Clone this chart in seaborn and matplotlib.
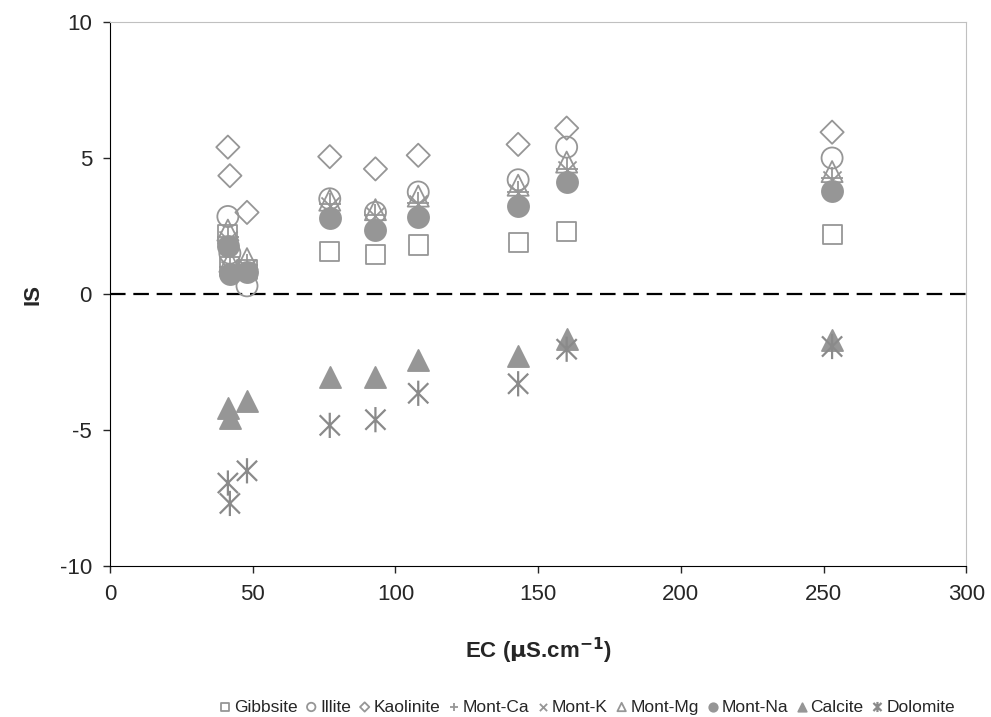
import numpy as np
import pandas as pd
import seaborn as sns
import matplotlib.pyplot as plt
from matplotlib.path import Path


# Saturation index data
ec = [41.3, 42.0, 48.0, 77.0, 93.0, 108.0, 143.0, 160.0, 253.0]
gibbsite = [2.2, 1.0, 0.9, 1.55, 1.45, 1.8, 1.9, 2.3, 2.2]
illite = [2.85, 1.5, 0.3, 3.5, 3.0, 3.75, 4.2, 5.4, 5.0]
kaolinite = [5.4, 4.35, 3.0, 5.05, 4.6, 5.1, 5.5, 6.1, 5.95]
mont_ca = [2.1, 1.0, 1.05, 3.3, 2.9, 3.35, 3.75, 4.6, 4.25]
mont_k = [2.0, 0.9, 0.95, 3.25, 2.85, 3.3, 3.7, 4.55, 4.2]
mont_mg = [2.35, 1.2, 1.3, 3.45, 3.1, 3.6, 4.0, 4.85, 4.5]
mont_na = [1.75, 0.75, 0.8, 2.78, 2.35, 2.84, 3.25, 4.13, 3.78]
calcite = [-4.2, -4.55, -3.95, -3.05, -3.05, -2.42, -2.28, -1.67, -1.7]
dolomite = [-6.95, -7.7, -6.5, -4.83, -4.62, -3.65, -3.3, -2.03, -1.93]

minerals = ["Gibbsite", "Illite", "Kaolinite", "Mont-Ca", "Mont-K",
            "Mont-Mg", "Mont-Na", "Calcite", "Dolomite"]
values = [gibbsite, illite, kaolinite, mont_ca, mont_k,
          mont_mg, mont_na, calcite, dolomite]

df = pd.DataFrame({
    "EC": np.tile(ec, len(minerals)),
    "IS": np.concatenate(values),
    "mineral": np.repeat(minerals, len(ec)),
})

# asterisk like the spreadsheet one: vertical bar plus an X
star = Path([(0, -1), (0, 1), (-0.8, -0.8), (0.8, 0.8), (-0.8, 0.8), (0.8, -0.8)],
            [Path.MOVETO, Path.LINETO, Path.MOVETO, Path.LINETO, Path.MOVETO, Path.LINETO])

grey = "#969696"
styles = {
    "Gibbsite": dict(marker="s", facecolor="none", edgecolor=grey, s=190),
    "Illite": dict(marker="o", facecolor="none", edgecolor=grey, s=230),
    "Kaolinite": dict(marker="D", facecolor="none", edgecolor=grey, s=140),
    "Mont-Ca": dict(marker="+", color=grey, s=260),
    "Mont-K": dict(marker="x", color=grey, s=170),
    "Mont-Mg": dict(marker="^", facecolor="none", edgecolor=grey, s=230),
    "Mont-Na": dict(marker="o", color=grey, edgecolor=grey, s=230),
    "Calcite": dict(marker="^", color=grey, edgecolor=grey, s=230),
    "Dolomite": dict(marker=star, facecolor="none", edgecolor="#8a8a8a", s=330),
}

sns.set_style("ticks")
plt.rcParams["font.family"] = ["Liberation Sans", "DejaVu Sans"]
plt.rcParams["axes.unicode_minus"] = False

fig = plt.figure(figsize=(9.91, 7.17), dpi=100)
ax = fig.add_axes([0.111, 0.2106, 0.864, 0.7587])

for name in minerals:
    sub = df[df["mineral"] == name]
    lw = 1.6 if name == "Dolomite" else 1.3
    sns.scatterplot(data=sub, x="EC", y="IS", ax=ax, label=name, legend=False,
                    linewidth=lw, zorder=3, **styles[name])

ax.axhline(0, color="black", linestyle=(0, (7, 3.5)), linewidth=1.6, zorder=2)

ax.set_xlim(0, 300)
ax.set_ylim(-10, 10)
ax.set_xticks(range(0, 301, 50))
ax.set_yticks([-10, -5, 0, 5, 10])
ax.tick_params(labelsize=16, direction="out", length=5, width=1, pad=8)
ax.set_xlabel("EC ($\\mathbf{\\mu}$S.cm$^{\\mathbf{-1}}$)", fontsize=16, fontweight="bold", labelpad=22)
ax.set_ylabel("IS", fontsize=16, fontweight="bold", labelpad=12)

for side in ["top", "right"]:
    ax.spines[side].set_color("#c0c0c0")
for side in ["left", "bottom"]:
    ax.spines[side].set_color("black")

handles, labels = ax.get_legend_handles_labels()
fig.legend(handles, labels, loc="center", bbox_to_anchor=(0.59, 0.014), ncol=9,
           frameon=False, fontsize=12.5, markerscale=0.4, handletextpad=-0.1,
           columnspacing=0.2, handlelength=1.2)

fig.savefig("out.png", dpi=100)
